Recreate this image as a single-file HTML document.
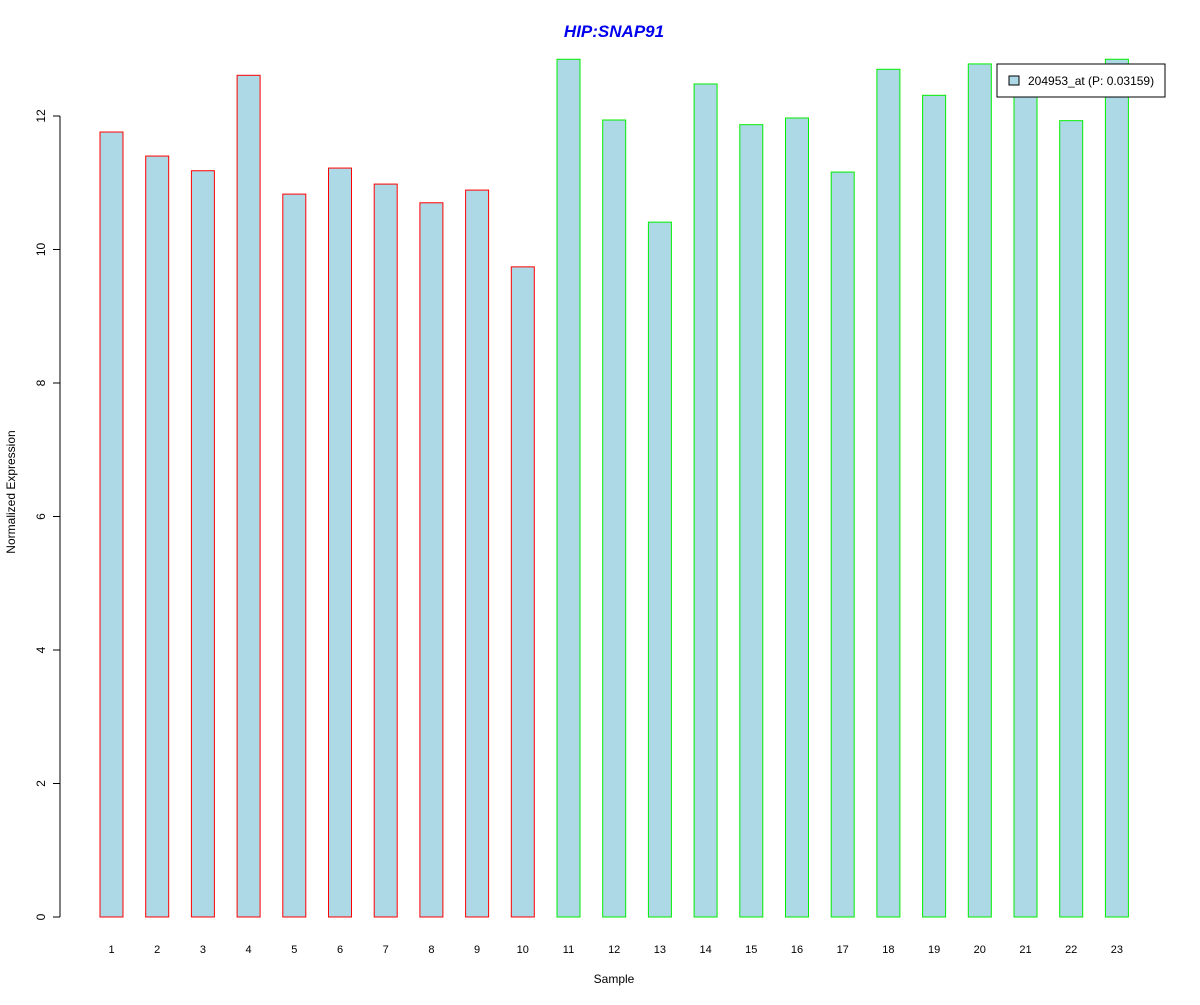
<!DOCTYPE html>
<html><head><meta charset="utf-8"><style>
body{margin:0;background:#fff}
svg text{font-family:"Liberation Sans",Arial,sans-serif}
</style></head><body>
<svg id="chart" width="1200" height="1000" xmlns="http://www.w3.org/2000/svg">
<rect width="1200" height="1000" fill="#fff"/>
<text x="614" y="37" text-anchor="middle" font-size="17" font-weight="bold" font-style="italic" fill="#0000ee">HIP:SNAP91</text>
<text x="614" y="983" text-anchor="middle" font-size="12">Sample</text>
<text transform="translate(15,492) rotate(-90)" text-anchor="middle" font-size="12">Normalized Expression</text>
<g id="yaxis"></g>
<g id="bars"></g>
<g id="xlabels"></g>
<g>
<rect x="997" y="64" width="168" height="33" fill="#fff" stroke="#000"/>
<rect x="1009" y="76" width="10" height="9" fill="#add8e6" stroke="#000"/>
<text x="1028" y="85" font-size="12">204953_at (P: 0.03159)</text>
</g>
</svg>
<script>
const categories=["1","2","3","4","5","6","7","8","9","10","11","12","13","14","15","16","17","18","19","20","21","22","23"];
const values=[11.76,11.40,11.18,12.61,10.83,11.22,10.98,10.70,10.89,9.74,12.85,11.94,10.41,12.48,11.87,11.97,11.16,12.70,12.31,12.78,12.40,11.93,12.85];
const groups=["a","a","a","a","a","a","a","a","a","a","b","b","b","b","b","b","b","b","b","b","b","b","b"];
const yTicks=[0,2,4,6,8,10,12];
const NS="http://www.w3.org/2000/svg";
const y=v=>917-v*66.75;
const x=i=>111.5+i*45.7;
const bw=23;
function mk(t,a,p){const e=document.createElementNS(NS,t);for(const k in a)e.setAttribute(k,a[k]);p.appendChild(e);return e;}
const ya=document.getElementById('yaxis');
mk('line',{x1:60,x2:60,y1:y(0),y2:y(12),stroke:'#000'},ya);
yTicks.forEach(t=>{
 const l=mk('line',{x1:53,x2:60,y1:y(t),y2:y(t),stroke:'#000'},ya);
 
 
 const tx=mk('text',{transform:`translate(45,${y(t)}) rotate(-90)`,'text-anchor':'middle','font-size':12},ya);
 tx.textContent=t;
 
 
});
const bg=document.getElementById('bars'),xl=document.getElementById('xlabels');
values.forEach((v,i)=>{
 const r=mk('rect',{x:x(i)-bw/2,y:y(v),width:bw,height:y(0)-y(v),fill:'#add8e6',stroke:groups[i]==='a'?'#ff0000':'#00ee00'},bg);
 
 
 const t=mk('text',{x:x(i),y:953,'text-anchor':'middle','font-size':11},xl);
 t.textContent=categories[i];
 
 
});
</script>
</body></html>
